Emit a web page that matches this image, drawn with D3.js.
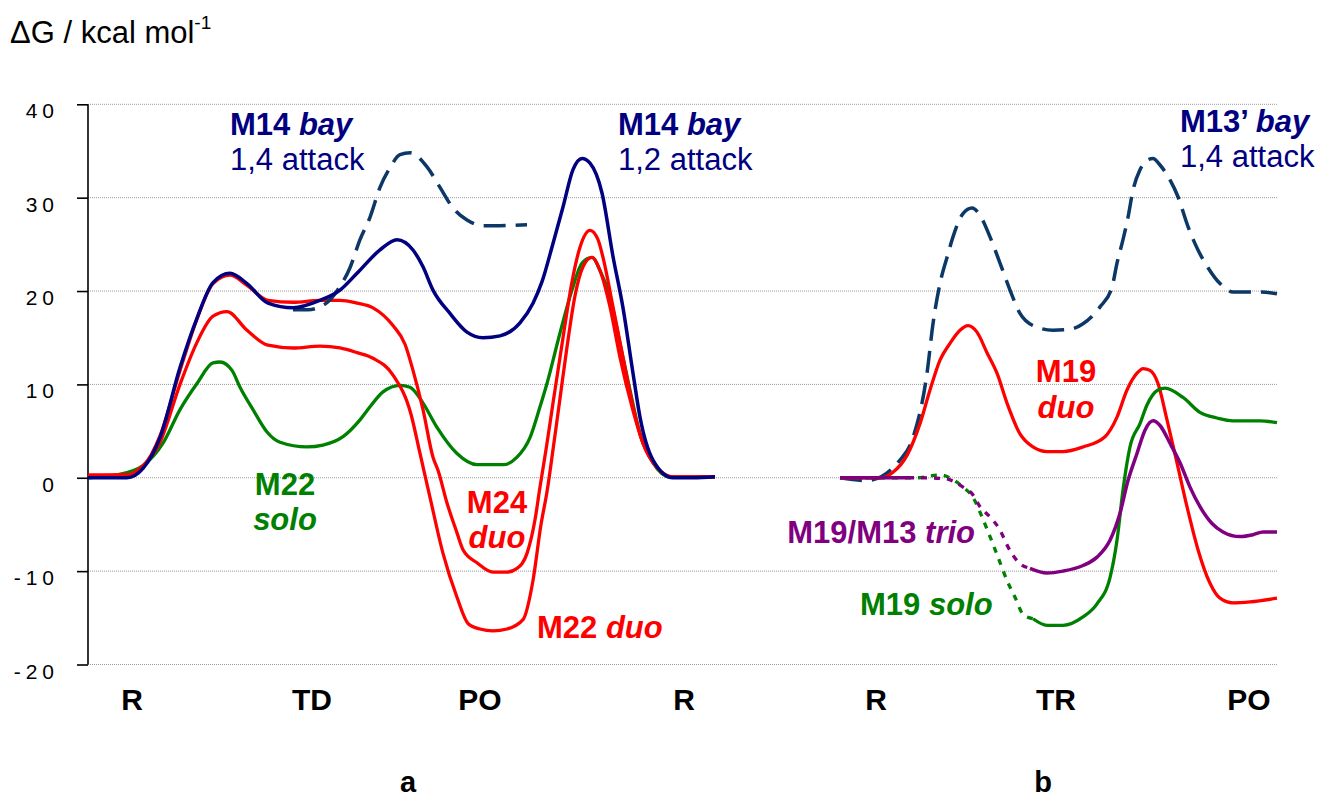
<!DOCTYPE html>
<html>
<head>
<meta charset="utf-8">
<script src="https://cdn.jsdelivr.net/npm/d3@7"></script>
<style>
  body { margin: 0; background: #fff; }
  text { font-family: "Liberation Sans", Arial, sans-serif; }
</style>
</head>
<body>
<svg id="chart" width="1325" height="800"></svg>
<script>
// reaction coordinate (arbitrary units) vs dG in kcal/mol
const yTicks = [-20, -10, 0, 10, 20, 30, 40];
const categories = [
    { name: "R", x: 4.4 }, { name: "TD", x: 22.4 }, { name: "PO", x: 39.2 }, { name: "R", x: 59.6 },
    { name: "R", x: 78.8 }, { name: "TR", x: 96.8 }, { name: "PO", x: 116.1 }
];
const panels = [{ name: "a", x: 32 }, { name: "b", x: 95.5 }];

// panel a
const m22Solo = [[0,0],[2.9,0.3],[5.5,1.3],[7.5,3.7],[9.2,7.3],[10.9,10.1],[12.5,12.3],[13.2,12.4],[14.4,11.5],[15.2,9.7],[16.5,7.3],[17.9,4.9],[19.2,3.8],[21.9,3.3],[23.5,3.5],[25.5,4.4],[27.2,6.2],[28.2,7.6],[29.5,9.2],[31.2,9.9],[32.2,9.7],[33.5,8.0],[34.9,5.4],[36.9,2.6],[38.9,1.4],[41.5,1.4],[42.9,2.2],[44.2,4.3],[45.2,7.6],[45.9,10.1],[47.2,15.5],[48.4,20.1],[49.4,23.0],[50.4,23.6],[51.2,22.2],[52.2,19.4],[53.2,14.4],[54.2,9.4],[55.2,4.7],[56.5,1.6],[58.2,0.1],[62.7,0.1]];
const m22Duo = [[0,0.2],[3.9,0.3],[5.5,1.3],[7.2,3.8],[9.2,10.0],[10.9,14.5],[12.5,17.3],[13.9,17.8],[15.9,15.8],[18,14.2],[20.5,13.9],[23.2,14.1],[25.2,13.9],[26.9,13.4],[28.5,12.8],[30.5,11.0],[32.3,6.8],[33.2,2.6],[34.2,-2.1],[35.5,-8.1],[36.9,-12.8],[38,-15.6],[39.2,-16.2],[40.5,-16.4],[41.9,-16.2],[43.5,-15.2],[44.5,-11.0],[45.3,-5.0],[45.9,-1.5],[46.5,3.0],[47.2,8.5],[47.9,14.0],[48.7,19.5],[49.5,22.6],[50.4,23.6],[51.2,22.2],[52.2,18.3],[53.2,12.9],[54.4,7.6],[55.5,3.7],[56.9,1.1],[58.5,0.1],[62.7,0.1]];
const m24Duo = [[0,0.3],[3.9,0.3],[5.5,1.2],[7.2,4.5],[9.2,11.5],[10.9,17.0],[12.5,20.8],[14.2,21.7],[15.9,20.6],[18,19.0],[20.5,18.8],[23.2,19.0],[25.2,19.0],[26.9,18.7],[28.5,18.2],[30.5,16.3],[31.7,14.3],[32.5,11.5],[33.5,7.3],[34.5,2.2],[35,0.8],[35.9,-2.7],[36.9,-5.9],[37.5,-7.7],[38.9,-9.1],[40.5,-10.1],[41.9,-10.1],[42.9,-9.7],[43.9,-8.1],[44.7,-4.5],[45.2,-1.0],[45.8,3.0],[46.5,8.0],[47.5,15.0],[48.4,21.0],[49.2,24.7],[50.2,26.5],[51,25.5],[51.5,23.6],[52.5,18.3],[53.5,12.9],[54.5,7.6],[55.5,3.7],[56.9,1.1],[58.5,0.1],[62.7,0.1]];
const m14Bay14 = [[20.5,18.0],[22,18.0],[23.7,18.6],[25.2,20.5],[26.2,22.5],[27.2,25.5],[28.2,27.9],[29.2,31.1],[30.2,33.2],[31.2,34.6],[32.2,34.8],[33.9,33.3],[35.2,31.1],[36.5,28.9],[37.9,27.6],[39.5,27.0],[41.2,27.0],[43.9,27.1]];
const m14Bay12 = [[0,0],[3.9,0],[5.5,1.0],[7.2,4.3],[9.2,11.8],[10.9,17.1],[12.5,20.9],[14.2,21.9],[15.9,20.8],[18,18.7],[20.5,18.2],[23.2,19.0],[25.2,20.1],[26.9,21.9],[29.2,24.4],[30.9,25.5],[32.5,24.4],[33.5,22.6],[34.5,20.1],[36.2,17.6],[37.9,15.6],[39.5,15.0],[41.2,15.2],[43.2,16.6],[44.5,18.7],[45.4,21.0],[46.5,25.1],[47.5,29.0],[48.5,33.0],[49.4,34.2],[50.2,33.7],[51.4,30.5],[52.5,23.7],[53.5,18.2],[54.5,11.2],[55.2,6.5],[56.5,1.9],[58.5,0],[60.5,0],[62.7,0.1]];

// panel b
const m13Bay14 = [[75.2,0],[77.9,-0.3],[81.2,1.9],[82.5,4.3],[83.9,11.2],[84.5,16.5],[85.2,20.8],[85.9,23.6],[86.5,25.8],[87.5,28.3],[88.4,28.9],[89.2,28.1],[90.2,25.8],[91.2,23.0],[92.2,20.1],[93.2,17.6],[94.5,16.3],[96.5,15.8],[98.2,15.9],[99.5,16.5],[101.2,18.3],[102.4,20.4],[102.9,23.0],[103.5,25.5],[104,27.9],[104.5,30.8],[105.2,33.0],[105.9,34.0],[106.5,34.2],[107.2,33.5],[108.2,31.9],[109,30.1],[110,26.9],[111,24.4],[112,22.5],[113.2,20.8],[114.5,19.9],[117.2,19.9],[118.9,19.7]];
const m19Duo = [[75.2,0],[79.2,0],[80.5,0.6],[81.9,2.4],[83.2,5.8],[84.2,9.4],[85.2,12.6],[86.2,14.4],[87.2,15.8],[88,16.3],[88.9,15.6],[89.9,13.4],[90.9,11.2],[91.9,8.0],[93.2,4.7],[94.5,3.3],[95.9,2.8],[97.5,2.8],[99.5,3.3],[101.7,4.4],[102.9,6.5],[103.9,9.4],[104.9,11.2],[105.5,11.7],[106.2,11.5],[107,10.1],[107.9,6.2],[108.9,1.6],[109.9,-3.1],[111,-7.7],[112.2,-11.3],[113.2,-12.9],[114.5,-13.4],[116.2,-13.3],[118.9,-12.9]];
const m19SoloPath = [[75.2,0],[82.9,0],[85.2,0.3],[86.5,-0.2],[87.5,-1.0],[88.5,-2.1],[89.4,-4.2],[90.2,-6.3],[91,-8.5],[91.9,-11.0],[92.7,-12.8],[93.5,-14.6],[94.5,-15.1]];
const m19Solo = [[94.5,-15.1],[95.9,-15.8],[97.5,-15.8],[99.5,-14.9],[100.9,-13.5],[102.2,-10.7],[102.9,-6.7],[103.5,-1.3],[104.2,3.3],[105.2,5.8],[105.9,7.8],[107,9.4],[107.7,9.6],[109.5,8.6],[111.2,7.0],[112.9,6.4],[114.5,6.1],[117.2,6.1],[118.9,5.9]];
const trioStart = [[75.2,0],[82,0]];
const trioPath = [[82,0],[83.5,0],[85.7,-0.1],[87.5,-1.0],[88.4,-1.7],[89.2,-3.1],[90.2,-4.2],[91.2,-5.6],[92,-7.4],[93,-9.0],[94.2,-9.7]];
const trio = [[94.2,-9.7],[95.9,-10.2],[97.5,-10.0],[99.5,-9.4],[100.9,-8.5],[102.2,-6.7],[103.2,-3.8],[104,-0.3],[104.9,2.6],[105.7,5.1],[106.5,6.1],[107.2,5.6],[108.2,3.7],[109.2,1.6],[110.2,-1.0],[111.2,-3.1],[112.4,-4.9],[113.5,-5.8],[115.2,-6.3],[116.5,-6.1],[117.5,-5.8],[118.9,-5.8]];

const RED = "#ff0000", GREEN = "#008000", NAVY = "#000080", PURPLE = "#800080", DASHBLUE = "#0b3866";

const series = [
    { data: m22Solo, color: GREEN, width: 3.3 },
    { data: m22Duo, color: RED, width: 3.3 },
    { data: m24Duo, color: RED, width: 3.3 },
    { data: m14Bay14, color: DASHBLUE, width: 3.5, dash: "22,10" },
    { data: m14Bay12, color: NAVY, width: 3.5 },
    { data: m13Bay14, color: DASHBLUE, width: 3.5, dash: "22,10" },
    { data: m19Duo, color: RED, width: 3.3 },
    { data: m19SoloPath, color: GREEN, width: 3.3, dash: "6,7" },
    { data: trioStart, color: PURPLE, width: 3.5 },
    { data: trioPath, color: PURPLE, width: 3.3, dash: "6,7" },
    { data: m19Solo, color: GREEN, width: 3.3 },
    { data: trio, color: PURPLE, width: 3.5 }
];

const svg = d3.select("#chart");
const x = d3.scaleLinear().domain([0, 119]).range([88, 1278]);
const y = d3.scaleLinear().domain([-20, 40]).range([664.5, 104.3]);

// gridlines
svg.append("g")
    .selectAll("line")
    .data(yTicks)
    .join("line")
    .attr("x1", x(0)).attr("x2", x(119))
    .attr("y1", d => y(d)).attr("y2", d => y(d))
    .attr("stroke", "#9a9a9a")
    .attr("stroke-width", 1)
    .attr("stroke-dasharray", "1,1");

// axis
const yAxis = d3.axisLeft(y).tickValues(yTicks).tickSize(11).tickFormat("");
const ax = svg.append("g").attr("transform", `translate(${x(0)},0)`).call(yAxis);
ax.select(".domain").attr("stroke", "#000").attr("stroke-width", 1.6).attr("d", `M0,${y(-20)}V${y(40)}`);
ax.selectAll(".tick line").attr("stroke", "#000").attr("stroke-width", 1.6);

svg.append("g")
    .selectAll("text")
    .data(yTicks)
    .join("text")
    .attr("x", 59)
    .attr("y", d => y(d) + 14)
    .attr("text-anchor", "end")
    .attr("font-size", "21px")
    .attr("letter-spacing", "5px")
    .attr("fill", "#000")
    .text(d => d);

// white patch behind the M22 solo label (it cuts the zero gridline)
svg.append("rect")
    .attr("x", x(14.5)).attr("y", y(-0.8))
    .attr("width", x(26.7) - x(14.5)).attr("height", y(-7) - y(-0.8))
    .attr("fill", "#fff");

// curves
const line = d3.line().x(d => x(d[0])).y(d => y(d[1])).curve(d3.curveMonotoneX);
svg.append("g")
    .selectAll("path")
    .data(series)
    .join("path")
    .attr("d", d => line(d.data))
    .attr("fill", "none")
    .attr("stroke", d => d.color)
    .attr("stroke-width", d => d.width)
    .attr("stroke-dasharray", d => d.dash || null)
    .attr("stroke-linejoin", "round");

// category labels
svg.append("g")
    .selectAll("text")
    .data(categories)
    .join("text")
    .attr("x", d => x(d.x))
    .attr("y", 710)
    .attr("text-anchor", "middle")
    .attr("font-size", "30px")
    .attr("font-weight", "bold")
    .text(d => d.name);

svg.append("g")
    .selectAll("text")
    .data(panels)
    .join("text")
    .attr("x", d => x(d.x))
    .attr("y", 792)
    .attr("text-anchor", "middle")
    .attr("font-size", "29px")
    .attr("font-weight", "bold")
    .text(d => d.name);

// axis title
const title = svg.append("text").attr("x", 10).attr("y", 43).attr("font-size", "31px");
title.append("tspan").text("\u0394G / kcal mol");
title.append("tspan").attr("font-size", "19px").attr("dy", -14).text("-1");

// annotations: [text parts] where each part is [string, bold, italic]
const notes = [
    { x: 14.2, y: 36.7, anchor: "start", color: NAVY, parts: [["M14 ", true, false], ["bay", true, true]] },
    { x: 14.2, y: 33.0, anchor: "start", color: NAVY, parts: [["1,4 attack", false, false]] },
    { x: 53.0, y: 36.7, anchor: "start", color: NAVY, parts: [["M14 ", true, false], ["bay", true, true]] },
    { x: 53.0, y: 33.0, anchor: "start", color: NAVY, parts: [["1,2 attack", false, false]] },
    { x: 109.2, y: 37.05, anchor: "start", color: NAVY, parts: [["M13\u2019 ", true, false], ["bay", true, true]] },
    { x: 109.2, y: 33.3, anchor: "start", color: NAVY, parts: [["1,4 attack", false, false]] },
    { x: 19.7, y: -1.85, anchor: "middle", color: GREEN, parts: [["M22", true, false]] },
    { x: 19.7, y: -5.6, anchor: "middle", color: GREEN, parts: [["solo", true, true]] },
    { x: 40.9, y: -3.8, anchor: "middle", color: RED, parts: [["M24", true, false]] },
    { x: 40.9, y: -7.5, anchor: "middle", color: RED, parts: [["duo", true, true]] },
    { x: 44.9, y: -17.2, anchor: "start", color: RED, parts: [["M22 ", true, false], ["duo", true, true]] },
    { x: 97.8, y: 10.25, anchor: "middle", color: RED, parts: [["M19", true, false]] },
    { x: 97.8, y: 6.4, anchor: "middle", color: RED, parts: [["duo", true, true]] },
    { x: 88.7, y: -7.0, anchor: "end", color: PURPLE, parts: [["M19/M13 ", true, false], ["trio", true, true]] },
    { x: 77.2, y: -14.7, anchor: "start", color: GREEN, parts: [["M19 ", true, false], ["solo", true, true]] }
];

notes.forEach(n => {
    const t = svg.append("text")
        .attr("x", x(n.x))
        .attr("y", y(n.y))
        .attr("text-anchor", n.anchor)
        .attr("font-size", "31px")
        .attr("fill", n.color);
    n.parts.forEach(p => {
        t.append("tspan")
            .attr("font-weight", p[1] ? "bold" : "normal")
            .attr("font-style", p[2] ? "italic" : "normal")
            .text(p[0]);
    });
});
</script>
</body>
</html>
